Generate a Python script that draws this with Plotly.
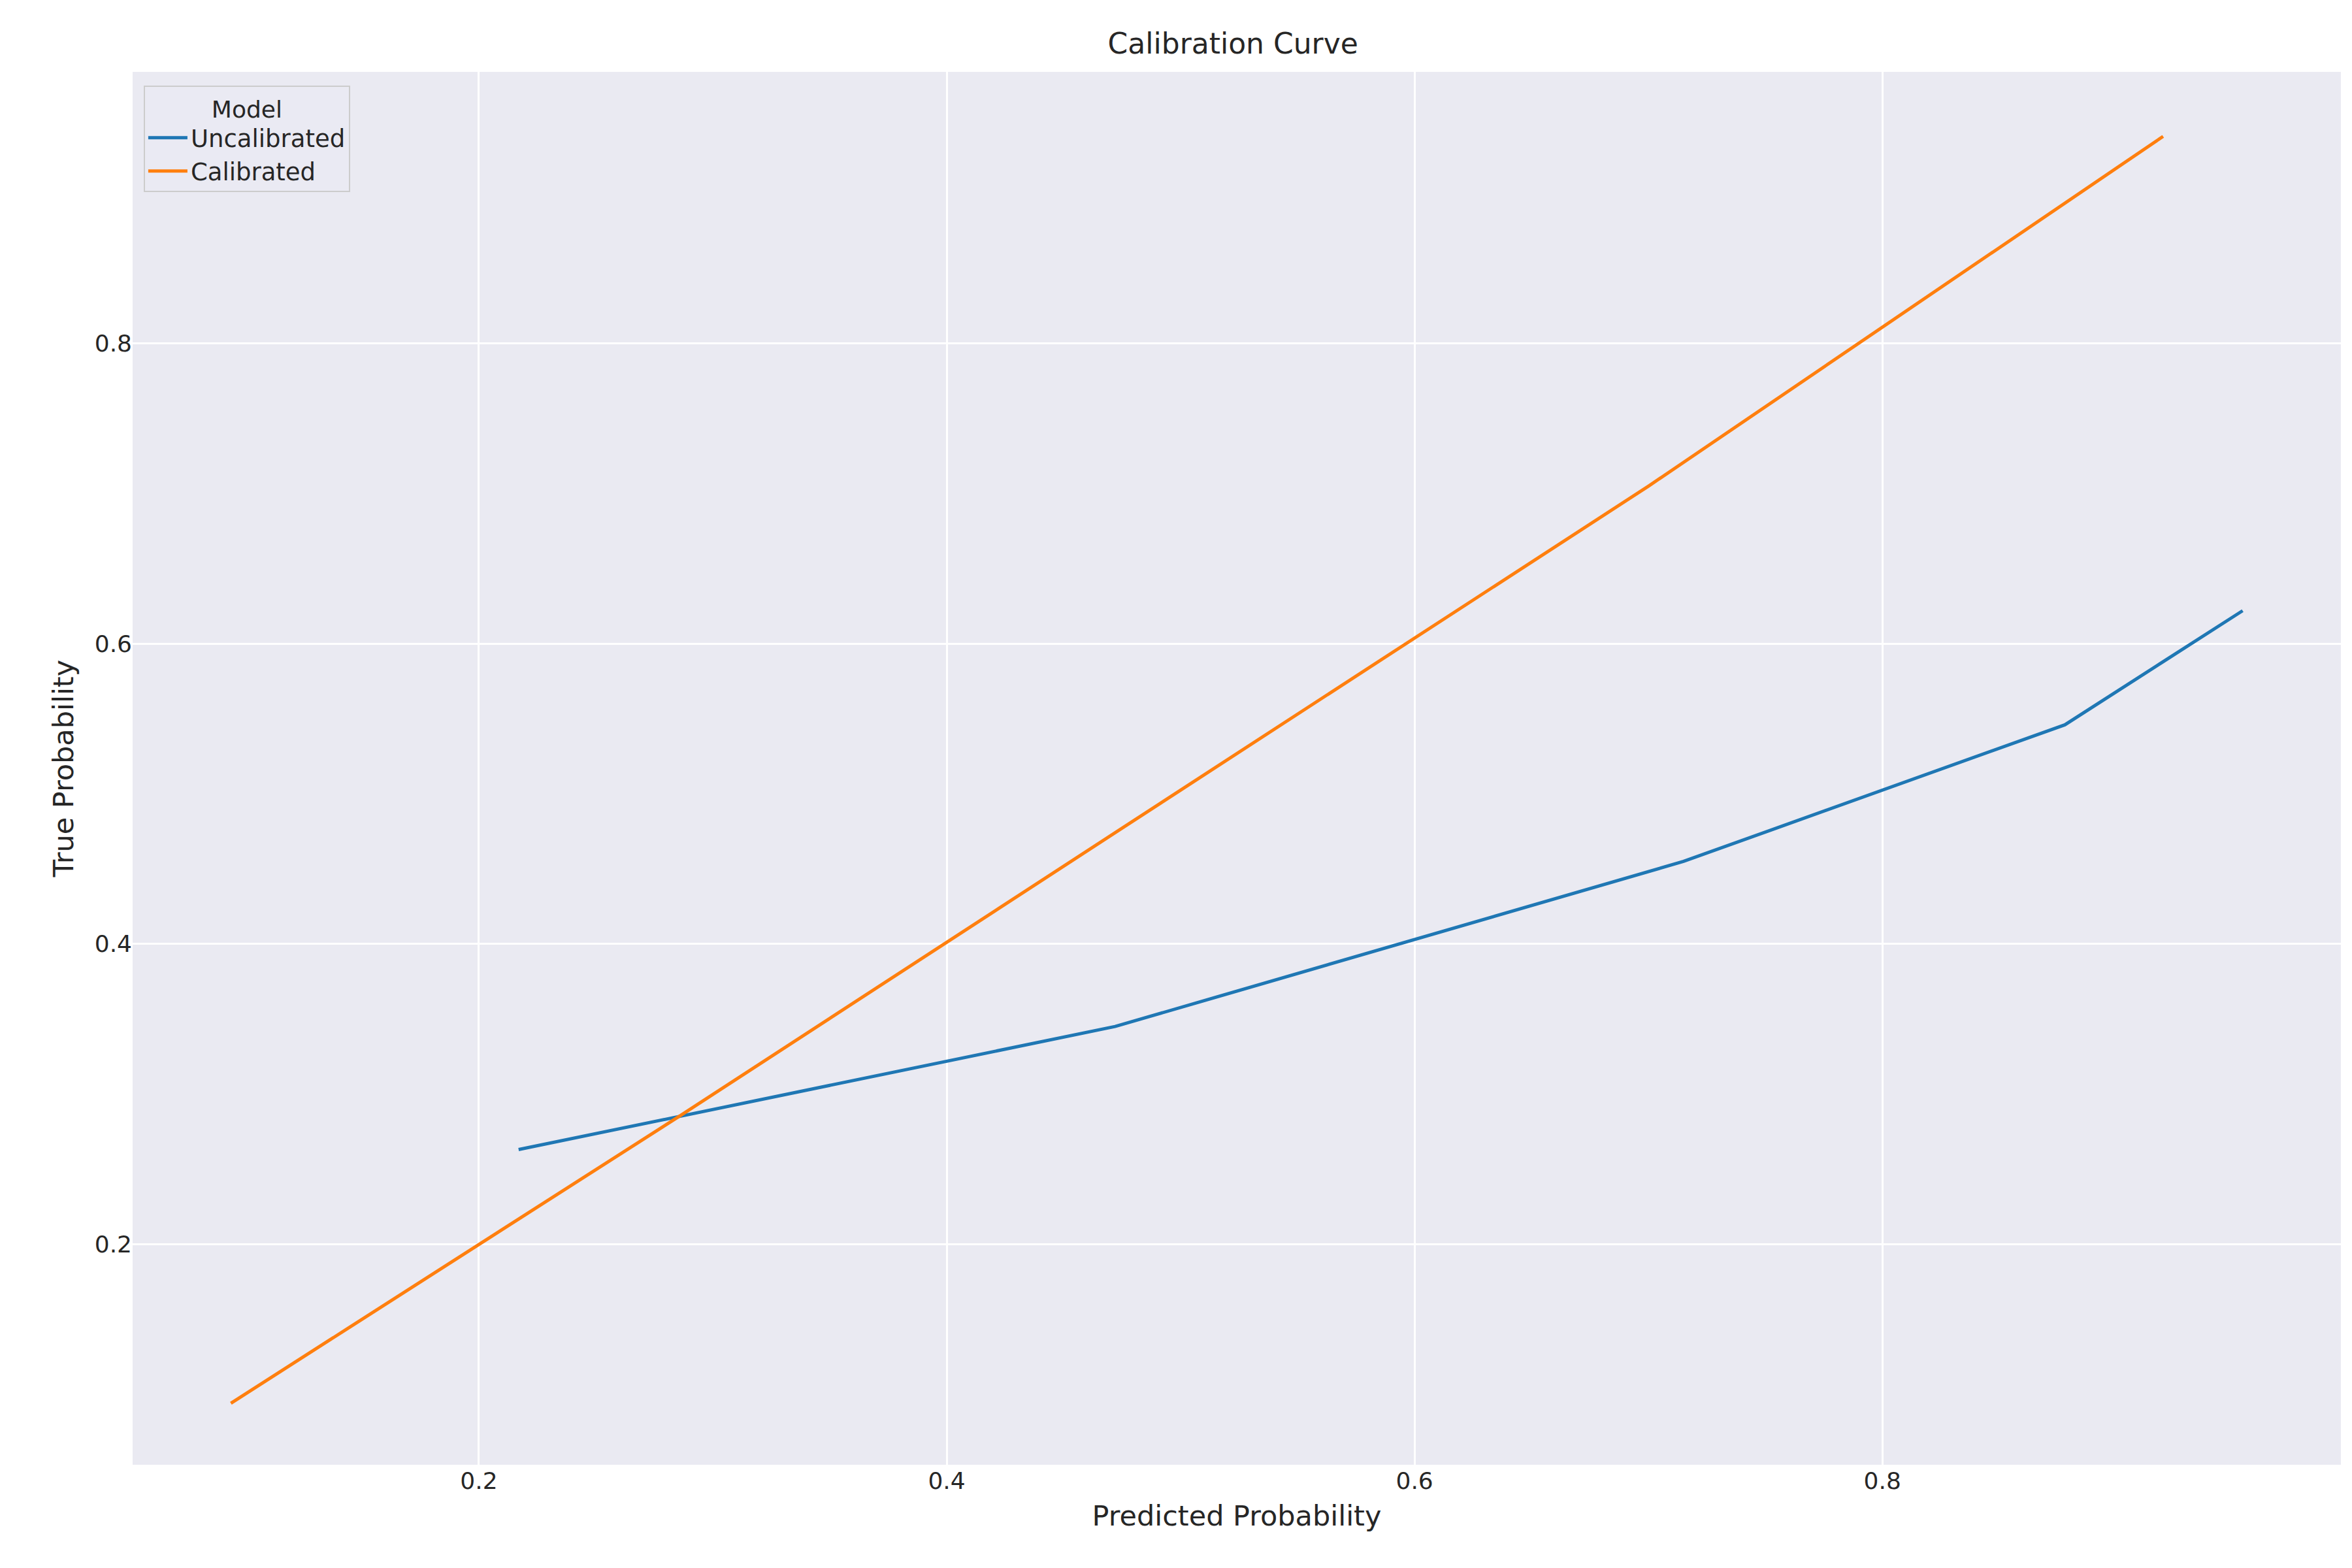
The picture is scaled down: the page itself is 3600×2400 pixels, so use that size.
import plotly.graph_objects as go

unc_x = [0.217, 0.472, 0.715, 0.878, 0.954]
unc_y = [0.263, 0.345, 0.455, 0.546, 0.622]
cal_x = [0.094, 0.286, 0.5, 0.7, 0.920]
cal_y = [0.094, 0.286, 0.5, 0.7, 0.938]
cal_x[-1] = 0.920
cal_y = [0.094, 0.2855, 0.5025, 0.705, 0.938]

fig = go.Figure()
fig.add_trace(go.Scatter(x=unc_x, y=unc_y, mode="lines", name="Uncalibrated",
                         line=dict(color="#1f77b4", width=5)))
fig.add_trace(go.Scatter(x=cal_x, y=cal_y, mode="lines", name="Calibrated",
                         line=dict(color="#ff7f0e", width=5)))
font = "DejaVu Sans"
fig.update_layout(
    width=3600, height=2400, paper_bgcolor="white", plot_bgcolor="#eaeaf2",
    margin=dict(l=195, r=25, t=102, b=166),
    font=dict(family=font, size=36, color="#262626"),
    title=dict(text="Calibration Curve", x=0.522, xanchor="center", y=0.982, yanchor="top",
               font=dict(size=44)),
    legend=dict(title=dict(text="Model", side="top center", font=dict(size=36)),
                x=0.005, y=0.99, xanchor="left", yanchor="top",
                bgcolor="rgba(234,234,242,0.8)", bordercolor="#cccccc", borderwidth=2,
                font=dict(size=37), itemwidth=60),
    xaxis=dict(title=dict(text="Predicted Probability", standoff=18), range=[0.052, 0.996],
               tickvals=[0.2, 0.4, 0.6, 0.8], ticktext=["0.2", "0.4", "0.6", "0.8"],
               showgrid=True, gridcolor="white", gridwidth=3, zeroline=False, ticks="",
               tickfont=dict(size=36)),
    yaxis=dict(title=dict(text="True Probability", standoff=18), range=[0.053, 0.981],
               tickvals=[0.2, 0.4, 0.6, 0.8], ticktext=["0.2", "0.4", "0.6", "0.8"],
               showgrid=True, gridcolor="white", gridwidth=3, zeroline=False, ticks="",
               tickfont=dict(size=36)),
)
fig.write_html("out.html")
